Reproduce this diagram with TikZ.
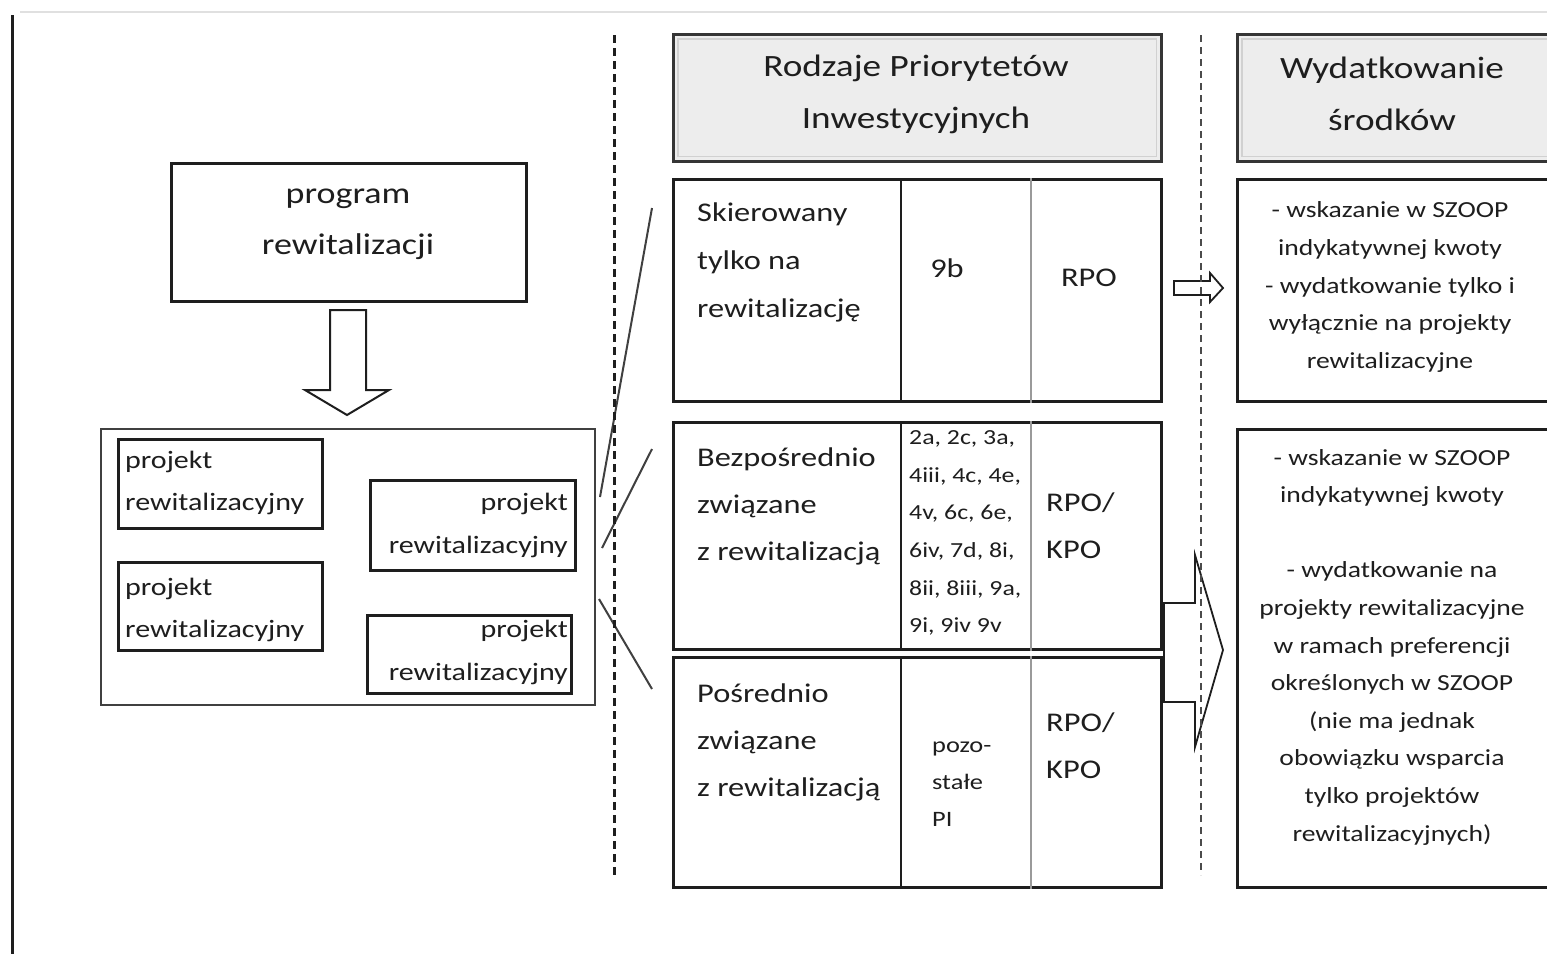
\documentclass[tikz,border=0pt]{standalone}
\usepackage{fontspec}
\setmainfont[FakeStretch=1.2]{Carlito}
\newcommand\myfs[2]{\fontsize{#1}{#2}\selectfont}
\definecolor{ink}{HTML}{1E1E1E}
\definecolor{hdrfill}{HTML}{EDEDED}
\begin{document}
\begin{tikzpicture}[x=1pt,y=-1pt,
  box/.style={draw=ink, line width=2.5pt, fill=white, anchor=north west, inner sep=0pt},
  thinbox/.style={draw=ink!85, line width=2pt, fill=white, anchor=north west, inner sep=0pt},
  hdr/.style={draw=ink!90, line width=2.8pt, fill=hdrfill, anchor=north west, inner sep=0pt},
  txt/.style={inner sep=0pt, text=ink},
  sep/.style={dashed, dash pattern=on 8pt off 5pt, line width=3pt, draw=ink},
  septhin/.style={dashed, dash pattern=on 7pt off 5pt, line width=2.2pt, draw=ink!80},
  zoomline/.style={line width=2pt, draw=ink!85},
  blockarrow/.style={draw=ink, line width=2pt, fill=white, line join=miter},
  colA/.style={line width=2.5pt, draw=ink},
  colB/.style={line width=2.2pt, draw=ink!45}
]
\clip (0,0) rectangle (1547,954);
\fill[white] (0,0) rectangle (1547,954);

% frame lines of the scan
\coordinate (ftl) at (20,12);
\coordinate (ftr) at (1547,12);
\draw[line width=1.5pt, draw=black!12] (ftl) -- (ftr);
\coordinate (flt) at (12,15);
\coordinate (flb) at (12,954);
\draw[line width=3pt, draw=ink] (flt) -- (flb);

% program box
\node[box, minimum width=355pt, minimum height=138pt] (prog) at (170,162) {};
\node[txt, align=center, font={\myfs{30}{51}}] (progt) at (348,224) {program\\rewitalizacji};

% down block arrow
\draw[blockarrow] (330,310) -- (366,310) -- (366,390) -- (389,390) -- (347,415) -- (305,390) -- (330,390) -- cycle;

% container of projects
\node[thinbox, minimum width=494pt, minimum height=276pt] (cont) at (100,428) {};
\node[box, minimum width=204pt, minimum height=89pt] (pa) at (117,438) {};
\node[txt, anchor=west, align=left, font={\myfs{25}{42}}] (pat) at (125,483) {projekt\\rewitalizacyjny};
\node[box, minimum width=204pt, minimum height=88pt] (pb) at (117,561) {};
\node[txt, anchor=west, align=left, font={\myfs{25}{42}}] (pbt) at (125,610) {projekt\\rewitalizacyjny};
\node[box, minimum width=205pt, minimum height=90pt] (pc) at (369,479) {};
\node[txt, anchor=east, align=right, font={\myfs{25}{43}}] (pct) at (568,525) {projekt\\rewitalizacyjny};
\node[box, minimum width=204pt, minimum height=78pt] (pd) at (366,614) {};
\node[txt, anchor=east, align=right, font={\myfs{25}{43}}] (pdt) at (568,652) {projekt\\rewitalizacyjny};

% zoom lines
\coordinate (z1a) at (600,497);
\coordinate (z1b) at (652,208);
\coordinate (z2a) at (602,548);
\coordinate (z2b) at (652,449);
\coordinate (z3a) at (599,599);
\coordinate (z3b) at (652,689);
\draw[zoomline] (z1a) -- (z1b);
\draw[zoomline] (z2a) -- (z2b);
\draw[zoomline] (z3a) -- (z3b);

% header 1
\node[hdr, minimum width=488pt, minimum height=127pt] (h1) at (672,33) {};
\draw[line width=1.2pt, draw=black!18] ([shift={(6pt,-6pt)}]h1.north west) rectangle ([shift={(-6pt,6pt)}]h1.south east);
\node[txt, align=center, font={\myfs{31}{52}}] (h1t) at (916,94) {Rodzaje Priorytetów\\Inwestycyjnych};

% header 2
\node[hdr, minimum width=330pt, minimum height=127pt] (h2) at (1236,33) {};
\draw[line width=1.2pt, draw=black!18] ([shift={(6pt,-6pt)}]h2.north west) rectangle ([shift={(-6pt,6pt)}]h2.south east);
\node[txt, align=center, font={\myfs{31}{52}}] (h2t) at (1392,94) {Wydatkowanie\\środków};

% table rows
\node[box, minimum width=488pt, minimum height=222pt] (r1) at (672,178) {};
\node[box, minimum width=488pt, minimum height=227pt] (r2) at (672,421) {};
\node[box, minimum width=488pt, minimum height=230pt] (r3) at (672,656) {};
\foreach \r in {r1,r2,r3}{
  \draw[colA] ([xshift=229pt]\r.north west) -- ([xshift=229pt]\r.south west);
  \draw[colB] ([xshift=359pt]\r.north west) -- ([xshift=359pt]\r.south west);
}

% row 1 texts
\node[txt, anchor=west, align=left, font={\myfs{27}{48}}] (r1a) at (697,262) {Skierowany\\tylko na\\rewitalizację};
\node[txt, font={\myfs{27}{48}}] (r1b) at (947,268) {9b};
\node[txt, font={\myfs{27}{48}}] (r1c) at (1089,278) {RPO};

% row 2 texts
\node[txt, anchor=west, align=left, font={\myfs{27}{47}}] (r2a) at (697,506) {Bezpośrednio\\związane\\z rewitalizacją};
\node[txt, anchor=west, align=left, font={\myfs{21.5}{37.6}}] (r2b) at (909,533) {2a, 2c, 3a,\\4iii, 4c, 4e,\\4v, 6c, 6e,\\6iv, 7d, 8i,\\8ii, 8iii, 9a,\\9i, 9iv 9v};
\node[txt, anchor=west, align=left, font={\myfs{27}{47}}] (r2c) at (1046,526) {RPO/\\KPO};

% row 3 texts
\node[txt, anchor=west, align=left, font={\myfs{27}{47}}] (r3a) at (697,742) {Pośrednio\\związane\\z rewitalizacją};
\node[txt, anchor=west, align=left, font={\myfs{22}{37}}] (r3b) at (932,784) {pozo-\\stałe\\PI};
\node[txt, anchor=west, align=left, font={\myfs{27}{47}}] (r3c) at (1046,746) {RPO/\\KPO};

% right boxes
\node[box, minimum width=330pt, minimum height=222pt] (w1) at (1236,178) {};
\node[txt, align=center, font={\myfs{23}{37.6}}] (w1t) at (1390,287) {- wskazanie w SZOOP\\indykatywnej kwoty\\- wydatkowanie tylko i\\wyłącznie na projekty\\rewitalizacyjne};
\node[box, minimum width=330pt, minimum height=458pt] (w2) at (1236,428) {};
\node[txt, align=center, font={\myfs{23}{37.6}}] (w2t) at (1392,647) {- wskazanie w SZOOP\\indykatywnej kwoty\\[37.6pt]- wydatkowanie na\\projekty rewitalizacyjne\\w ramach preferencji\\określonych w SZOOP\\(nie ma jednak\\obowiązku wsparcia\\tylko projektów\\rewitalizacyjnych)};

% right block arrows
\draw[blockarrow, line width=1.8pt] (1174,281) -- (1210,281) -- (1210,273) -- (1223,288) -- (1210,302) -- (1210,295) -- (1174,295) -- cycle;
\draw[blockarrow, line width=1.8pt] (1164,603) -- (1195,603) -- (1195,555) -- (1223,650) -- (1195,747) -- (1195,702) -- (1164,702) -- cycle;

% dashed separators (drawn over the arrows, as in the picture)
\coordinate (s1t) at (614,35);
\coordinate (s1b) at (614,875);
\draw[sep] (s1t) -- (s1b);
\coordinate (s2t) at (1201,35);
\coordinate (s2b) at (1201,875);
\draw[septhin] (s2t) -- (s2b);
\end{tikzpicture}
\end{document}
